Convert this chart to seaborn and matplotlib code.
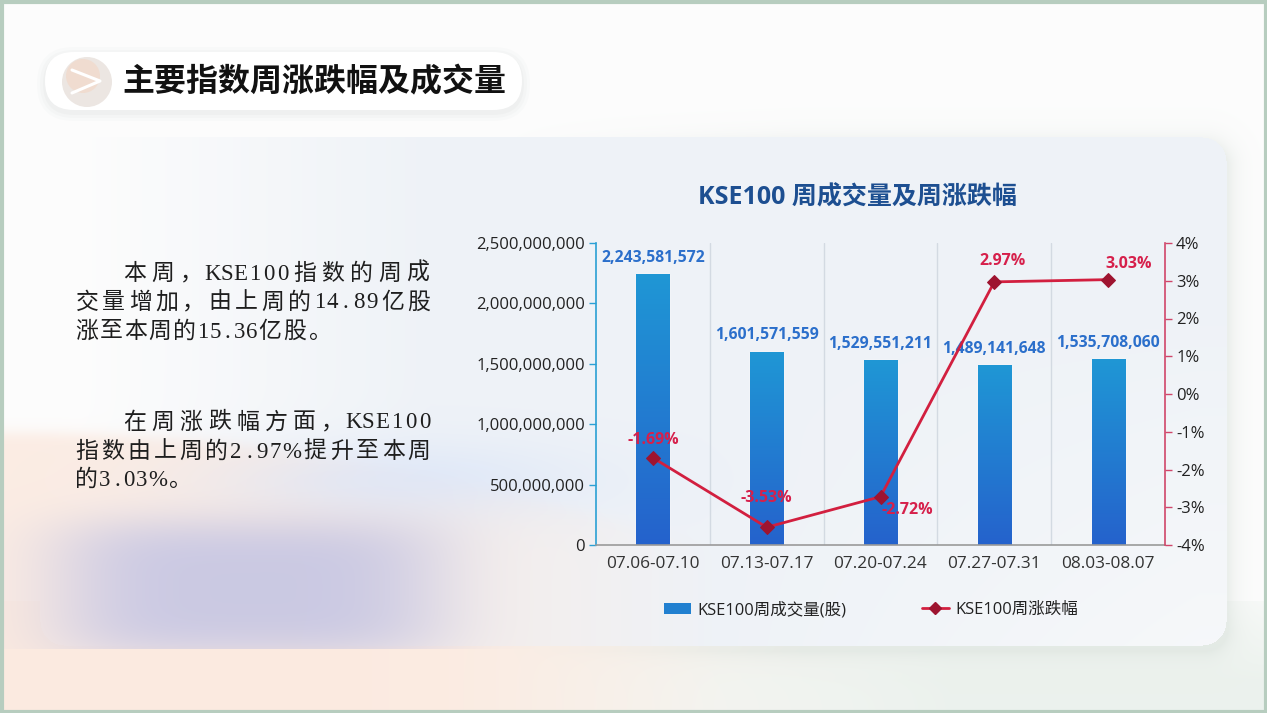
import numpy as np
import matplotlib
matplotlib.use("Agg")
import matplotlib.pyplot as plt
import seaborn as sns
from matplotlib.patches import FancyBboxPatch, Patch, Circle
from matplotlib.lines import Line2D
from matplotlib.colors import LinearSegmentedColormap
from matplotlib.ticker import FuncFormatter, MultipleLocator

# data
weeks = ["07.06-07.10", "07.13-07.17", "07.20-07.24", "07.27-07.31", "08.03-08.07"]
volumes = [2243581572, 1601571559, 1529551211, 1489141648, 1535708060]
changes = [-1.69, -3.53, -2.72, 2.97, 3.03]

page_title = "主要指数周涨跌幅及成交量"
chart_title = "KSE100 周成交量及周涨跌幅"
bar_name = "KSE100周成交量(股)"
line_name = "KSE100周涨跌幅"
para1 = ["本周，KSE100指数的周成", "交量增加，由上周的14.89亿股", "涨至本周的15.36亿股。"]
para2 = ["在周涨跌幅方面，KSE100", "指数由上周的2.97%提升至本周", "的3.03%。"]

sns.set_style("white")
plt.rcParams["font.family"] = ["Open Sans", "Noto Sans CJK SC", "DejaVu Sans"]

W, H = 1267, 713
fig = plt.figure(figsize=(W / 100, H / 100), dpi=100)

# ---- background ----
yy, xx = np.mgrid[0:H, 0:W].astype(float)
img = np.ones((H, W, 3)) * np.array([0.99, 0.99, 0.99])

def blend(img, col, w):
    w = np.clip(w, 0, 1)[..., None]
    return img * (1 - w) + np.array(col) * w

def rect_dist(x0, y0, x1, y1, r):
    cx, cy = (x0 + x1) / 2, (y0 + y1) / 2
    qx = np.abs(xx - cx) - ((x1 - x0) / 2 - r)
    qy = np.abs(yy - cy) - ((y1 - y0) / 2 - r)
    return np.hypot(np.maximum(qx, 0), np.maximum(qy, 0)) + np.minimum(np.maximum(qx, qy), 0) - r

card = rect_dist(40, 137, 1226, 645, 24) <= 0
# bottom strip outside card
fade = np.clip((xx - 450) / 500, 0, 1)
bottom = (yy > 600) & ~card
img = blend(img, (0.985, 0.935, 0.9), bottom * (1 - fade))
img = blend(img, (0.925, 0.948, 0.93), bottom * fade * np.clip((yy - 560) / 120, 0, 1))
# soft card shadow
sd = rect_dist(40, 143, 1228, 651, 24)
shadow = np.exp(-np.maximum(sd, 0) / 10) * ~card * np.clip((xx - 500) / 300, 0, 1)
img = blend(img, (0.8, 0.84, 0.81), shadow * 0.35)
# card tint, fading out towards the left
card_w = np.clip((xx - 80) / 350, 0, 1) * card
lower_right = np.clip((yy - 300) / 345, 0, 1) * np.clip((xx - 700) / 500, 0, 1)
img = blend(img, (0.935, 0.95, 0.97), card_w * (1 - 0.55 * lower_right))
# peach sweep on the left
curve = 432 + 0.00023 * xx ** 2
peach = 1 / (1 + np.exp(-(yy - curve) / 4)) * np.clip((720 - xx) / 420, 0, 1)
img = blend(img, (0.985, 0.915, 0.875), peach * 0.85)
# blue haze
haze = np.exp(-(((xx - 400) / 190) ** 2 + ((yy - 480) / 40) ** 2))
img = blend(img, (0.86, 0.9, 0.975), haze * 0.75)
# purple blob
purple = np.exp(-(((xx - 250) / 200) ** 4 + ((yy - 588) / 72) ** 4)) * (yy <= 648)
img = blend(img, (0.775, 0.775, 0.89), purple * 0.9)

bg = fig.add_axes([0, 0, 1, 1])
bg.imshow(img, extent=[0, W, H, 0], aspect="auto", interpolation="bilinear")
bg.set_xlim(0, W)
bg.set_ylim(H, 0)
bg.axis("off")

# frame
bg.add_patch(plt.Rectangle((1.5, 1.5), W - 3, H - 3, fill=False, ec="#b7cdbf", lw=3))

# heading pill with soft shadow
for i, a in enumerate([0.035, 0.045, 0.06]):
    g = 8 - i * 3
    bg.add_patch(FancyBboxPatch((45 - g, 52 - g + 3), 477 + 2 * g, 58 + 2 * g,
                                boxstyle=f"round,pad=0,rounding_size={29 + g}",
                                fc="#9fb0a8", ec="none", alpha=a))
bg.add_patch(FancyBboxPatch((45, 52), 477, 58, boxstyle="round,pad=0,rounding_size=29",
                            fc="white", ec="none"))
bg.add_patch(Circle((87, 82), 25, fc="#ece6e2", ec="none"))
bg.add_patch(Circle((83, 76), 17, fc="#f3d6c4", ec="none", alpha=0.6))
bg.plot([72, 100, 72], [70, 81, 93], color="white", lw=2.2, solid_capstyle="round")
bg.text(122, 82, page_title, fontsize=23, fontweight="bold", color="#111111",
        family=["Noto Sans CJK SC"], va="center", ha="left")

# left text, laid out character by character (justified lines)
serif = ["Liberation Serif", "Noto Sans CJK SC"]
right_edge = 432
natural = 24.5

def unit(c):
    if c == "%":
        return 0.8
    return 0.5 if ord(c) < 128 else 1.0

def draw_line(s, x0, y, justify):
    units = [unit(c) for c in s]
    cell = (right_edge - x0) / sum(units) if justify else natural
    x = x0
    for c, u in zip(s, units):
        bg.text(x + u * cell / 2, y, c, fontsize=16.5, color="#1e1e1e",
                family=serif, va="center", ha="center")
        x += u * cell

for lines, ys in ((para1, [274, 303, 332]), (para2, [423, 452, 480])):
    for k, (s, y) in enumerate(zip(lines, ys)):
        draw_line(s, 120 if k == 0 else 74, y, k < len(lines) - 1)

# ---- chart ----
L, R, T, B = 596, 1165, 243, 545
ax = fig.add_axes([L / W, 1 - B / H, (R - L) / W, (B - T) / H])
ax.patch.set_alpha(0)
sns.barplot(x=weeks, y=volumes, ax=ax, color="#2180d0", width=0.29, zorder=2)

cmap = LinearSegmentedColormap.from_list("bar", ["#2562cc", "#1f97d5"])
grad = np.linspace(0, 1, 256).reshape(-1, 1)
for p in ax.patches:
    x0, y0, w, h = p.get_x(), p.get_y(), p.get_width(), p.get_height()
    im = ax.imshow(grad, extent=[x0, x0 + w, y0, y0 + h], aspect="auto",
                   origin="lower", cmap=cmap, zorder=2.5)
    im.set_clip_path(p)

ax.bar_label(ax.containers[0], labels=[f"{v:,}" for v in volumes], padding=6,
             fontsize=11.3, fontweight="bold", color="#2b6fcb")

for xv in np.arange(len(weeks) - 1) + 0.5:
    ax.axvline(xv, color="#d3dae2", lw=1, zorder=0)

ax.set_xlim(-0.5, len(weeks) - 0.5)
ax.set_ylim(0, 2.5e9)
ax.yaxis.set_major_locator(MultipleLocator(5e8))
ax.yaxis.set_major_formatter(FuncFormatter(lambda v, _: f"{v:,.0f}"))
for s in ("top", "right"):
    ax.spines[s].set_visible(False)
ax.spines["left"].set_color("#2aa0d4")
ax.spines["left"].set_linewidth(1.2)
ax.spines["bottom"].set_color("#9a9a9a")
ax.spines["bottom"].set_linewidth(1.2)
ax.tick_params(axis="y", length=5, width=1, color="#2aa0d4", labelcolor="#222222",
               labelsize=12, pad=3, left=True)
ax.tick_params(axis="x", length=0, labelcolor="#333333", labelsize=12.4, pad=8)
ax.set_xlabel("")
ax.set_ylabel("")

ax2 = ax.twinx()
pos = np.arange(len(weeks))
sns.lineplot(x=pos, y=changes, ax=ax2, color="#d21f3f", lw=2, marker="D",
             markersize=7, markerfacecolor="#9e1430", markeredgecolor="#9e1430", zorder=5)
ax2.set_ylim(-4, 4)
ax2.yaxis.set_major_locator(MultipleLocator(1))
ax2.yaxis.set_major_formatter(FuncFormatter(lambda v, _: f"{v:.0f}%"))
for s in ("top", "left", "bottom"):
    ax2.spines[s].set_visible(False)
ax2.spines["right"].set_color("#d0466a")
ax2.spines["right"].set_linewidth(1.2)
ax2.tick_params(axis="y", length=5, width=1, color="#d0466a", labelcolor="#222222",
                labelsize=12, pad=3, right=True)
ax2.set_ylabel("")
ax2.set_xlim(-0.5, len(weeks) - 0.5)

offsets = [(0, 18), (0, 29), (27, -13), (8, 21), (21, 16)]
for xv, yv, (dx, dy) in zip(pos, changes, offsets):
    ax2.annotate(f"{yv:.2f}%", (xv, yv), xytext=(dx, dy), textcoords="offset pixels",
                 ha="center", va="center", fontsize=11.5, fontweight="bold", color="#d6204b")

fig.text(857 / W, 1 - 198 / H, chart_title, fontsize=18, fontweight="bold",
         color="#1d4f91", ha="center", va="center")

handles = [Patch(facecolor="#2180d0", edgecolor="none"),
           Line2D([], [], color="#d21f3f", lw=2, marker="D", markersize=6,
                  markerfacecolor="#9e1430", markeredgecolor="#9e1430")]
fig.legend(handles, [bar_name, line_name], loc="center", bbox_to_anchor=(871 / W, 1 - 610 / H),
           ncol=2, frameon=False, fontsize=11.9, columnspacing=4.6, handlelength=1.6,
           handletextpad=0.4, labelcolor="#222222")

fig.savefig("out.png", dpi=100)
